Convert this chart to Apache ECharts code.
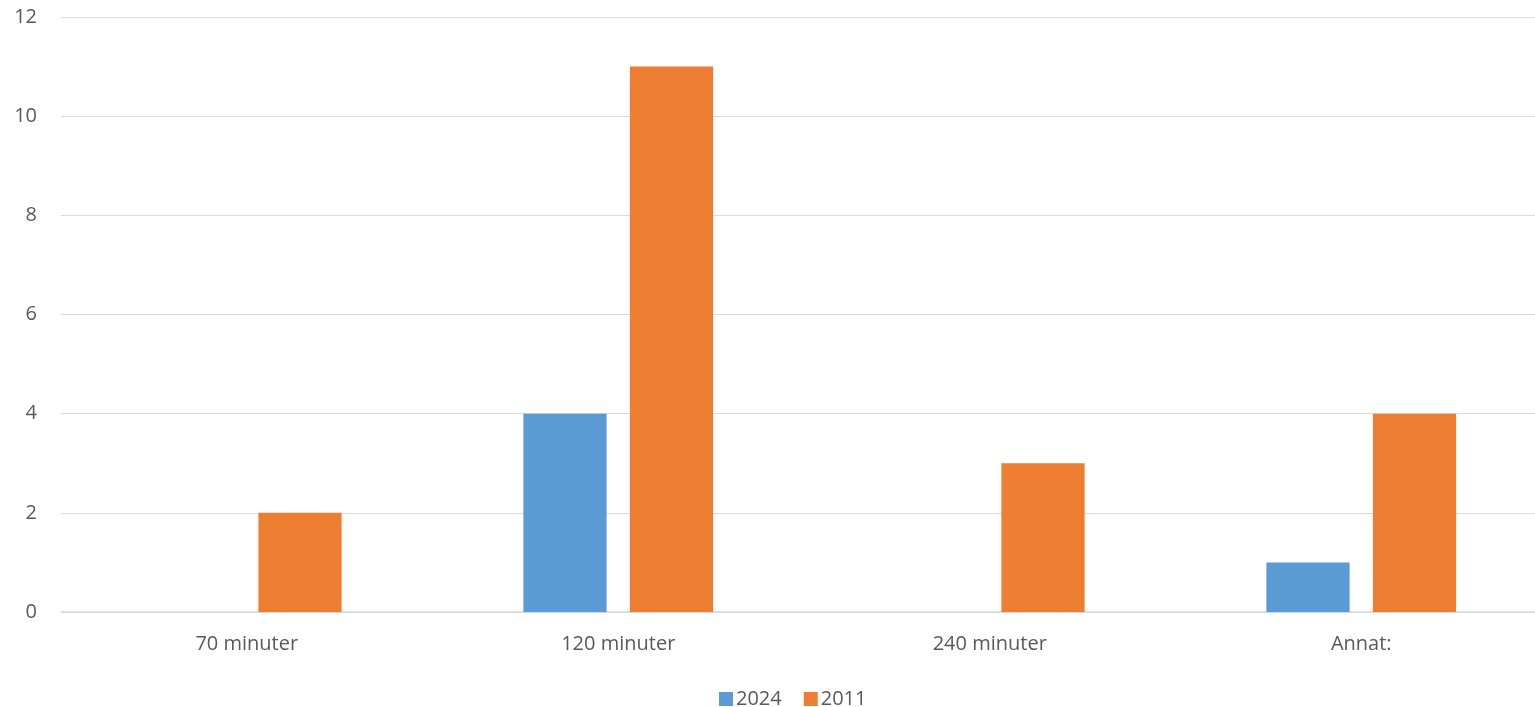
<!DOCTYPE html>
<html><head><meta charset="utf-8">
<script src="https://cdn.jsdelivr.net/npm/echarts@6/dist/echarts.min.js"></script>
<style>html,body{margin:0;padding:0;background:#fff;overflow:hidden}#c{width:1547px;height:707px}</style>
</head><body><div id="c"></div>
<script>
const categories = ['70 minuter', '120 minuter', '240 minuter', 'Annat:'];
const series2024 = [0, 4, 0, 1];
const series2011 = [2, 11, 3, 4];
const yTicks = [0, 2, 4, 6, 8, 10, 12];

const font = 'Open Sans, Liberation Sans, sans-serif';
const chart = echarts.init(document.getElementById('c'));
chart.setOption({
  animation: false,
  grid: { left: 61, right: 0, top: 17, bottom: 95 },
  legend: {
    top: 684, left: 714, itemWidth: 14, itemHeight: 14, itemGap: 22,
    icon: 'rect',
    textStyle: { color: '#595959', fontSize: 20, fontFamily: font, padding: [0, 0, 0, -2] },
    data: ['2024', '2011']
  },
  xAxis: {
    type: 'category', data: categories,
    axisLine: { lineStyle: { color: '#d9d9d9', width: 1.5 } },
    axisTick: { show: false },
    axisLabel: { color: '#595959', fontSize: 20, fontFamily: font, margin: 22 }
  },
  yAxis: {
    type: 'value', min: yTicks[0], max: yTicks[yTicks.length - 1], interval: 2,
    axisLine: { show: false }, axisTick: { show: false },
    splitLine: { lineStyle: { color: '#d9d9d9', width: 1.2 } },
    axisLabel: { color: '#595959', fontSize: 20, fontFamily: font, margin: 24 }
  },
  series: [
    { name: '2024', type: 'bar', data: series2024, barWidth: '22.4%', barGap: '28%', itemStyle: { color: '#5B9BD5' } },
    { name: '2011', type: 'bar', data: series2011, barWidth: '22.4%', barGap: '28%', itemStyle: { color: '#ED7D31' } }
  ]
});
</script></body></html>
